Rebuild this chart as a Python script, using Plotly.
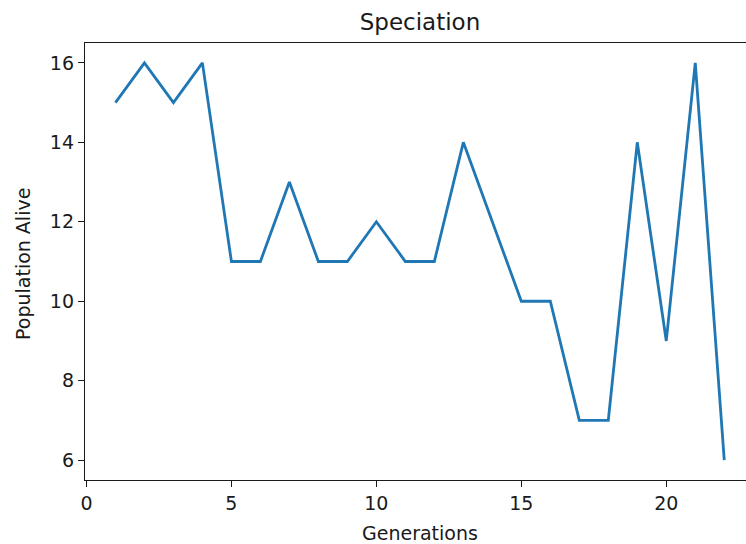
import plotly.graph_objects as go

generations = list(range(1, 23))
population = [15, 16, 15, 16, 11, 11, 13, 11, 11, 12, 11, 11, 14, 12, 10, 10, 7, 7, 14, 9, 16, 6]
x_ticks = [0, 5, 10, 15, 20]
y_ticks = [6, 8, 10, 12, 14, 16]

W, H = 746, 544
L, R, T, B = 85, 0, 43, 64
PW, PH = W - L - R, H - T - B

ink = "#1a1a1a"
tick_font = dict(family="DejaVu Sans", size=19, color=ink)
label_font = dict(family="DejaVu Sans", size=19, color=ink)

fig = go.Figure()
fig.add_trace(go.Scatter(x=generations, y=population, mode="lines",
                         line=dict(color="#1f77b4", width=2.8)))

fig.update_layout(
    width=W, height=H,
    margin=dict(l=L, r=R, t=T, b=B),
    paper_bgcolor="white", plot_bgcolor="white",
    showlegend=False,
    font=dict(family="DejaVu Sans", size=19, color=ink),
    title=dict(text="Speciation", x=420 / W, xanchor="center",
               y=1 - 22 / H, yanchor="middle",
               font=dict(family="DejaVu Sans", size=23, color=ink)),
    annotations=[
        dict(text="Generations", xref="paper", yref="paper",
             x=(420 - L) / PW, y=-(533 - (H - B)) / PH,
             xanchor="center", yanchor="middle", showarrow=False, font=label_font),
        dict(text="Population Alive", xref="paper", yref="paper",
             x=(23 - L) / PW, y=((H - B) - 264) / PH, textangle=-90,
             xanchor="center", yanchor="middle", showarrow=False, font=label_font),
    ],
)
fig.update_xaxes(range=[-0.05, 22.75], tickvals=x_ticks, ticks="outside", ticklen=6,
                 tickwidth=1.2, tickcolor=ink, showline=True, linecolor=ink, linewidth=1.3,
                 mirror=True, showgrid=False, zeroline=False, tickfont=tick_font)
fig.update_yaxes(range=[5.5, 16.5], tickvals=y_ticks, ticks="outside", ticklen=6,
                 tickwidth=1.2, tickcolor=ink, showline=True, linecolor=ink, linewidth=1.3,
                 mirror=False, showgrid=False, zeroline=False, tickfont=tick_font)
fig.write_html("out.html", config={"displayModeBar": False},
               post_script="document.body.style.margin='0';document.body.style.overflow='hidden';")
